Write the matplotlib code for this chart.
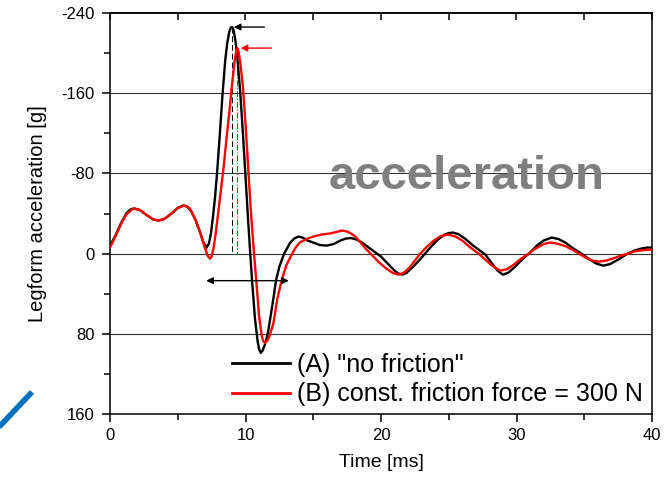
import matplotlib
matplotlib.use("Agg")
import matplotlib.pyplot as plt
from matplotlib.lines import Line2D
from matplotlib.ticker import MultipleLocator

plt.rcParams['font.family'] = ['Liberation Sans', 'DejaVu Sans']
plt.rcParams['axes.unicode_minus'] = False

# --- data (time [ms], acceleration [g]) ---
t_a = [0, 0.4, 0.8, 1.2, 1.5, 1.8, 2.2, 2.7, 3.2, 3.6, 4.0, 4.5, 5.0, 5.4, 5.7, 6.0, 6.3,
       6.6, 6.9, 7.13, 7.3, 7.45, 7.6, 7.75, 7.9, 8.1, 8.3, 8.5, 8.65, 8.8, 8.92, 9.0, 9.1,
       9.25, 9.4, 9.6, 9.8, 10.0, 10.2, 10.35, 10.5, 10.7, 10.9, 11.0, 11.12, 11.25, 11.4,
       11.55, 11.68, 12.0, 12.25, 12.5, 12.85, 13.1, 13.3, 13.6, 13.9, 14.2, 14.6, 15.0,
       15.5, 16.0, 16.5, 17.0, 17.4, 17.8, 18.2, 18.6, 19.0, 19.5, 20.0, 20.5, 21.0, 21.3,
       21.6, 21.9, 22.3, 22.8, 23.25, 23.7, 24.2, 24.7, 25.0, 25.3, 25.7, 26.2, 26.8, 27.3,
       27.7, 28.2, 28.6, 29.0, 29.4, 29.9, 30.4, 31.0, 31.5, 32.0, 32.6, 33.1, 33.6, 34.2,
       34.8, 35.3, 35.9, 36.4, 36.9, 37.5, 38.2, 38.7, 39.2, 39.6, 40.0]
acc_a = [-8, -18, -30, -40, -44, -45, -43.5, -38.5, -34, -33, -34.5, -39.5, -45.5, -48, -47,
         -42, -34, -23, -11, -6, -10, -20, -37, -56, -80, -118, -158, -192, -210, -221,
         -225.5, -226, -224, -213, -195, -163, -122, -77, -32, 0, 30, 65, 88, 95, 99, 97, 92,
         85, 77, 50, 27, 13, 0, -6, -11, -15, -17, -16, -13, -11,
         -8.5, -8, -9.5, -13, -15, -15.5, -14, -11, -7, -2, 3, 10, 17, 20,
         21, 19, 14, 7, 0, -7, -14, -19, -20.5, -21, -19.5, -15, -8, -3,
         1, 10, 17, 21, 19, 13, 6, -1, -8, -13, -16, -14.5, -11, -5,
         0, 5, 10, 12, 10.5, 6, 0, -3, -5, -6, -6]

t_b = [0, 0.4, 0.8, 1.2, 1.7, 2.2, 2.7, 3.2, 3.6, 4.0, 4.5, 5.0, 5.5, 5.9, 6.3, 6.7, 7.0,
       7.2, 7.38, 7.5, 7.65, 7.8, 8.0, 8.2, 8.4, 8.6, 8.8, 9.0, 9.2, 9.3, 9.39, 9.48, 9.6,
       9.8, 10.0, 10.2, 10.4, 10.6, 10.8, 11.0, 11.2, 11.3, 11.43, 11.6, 11.75, 12.05, 12.35,
       12.66, 13.0, 13.45, 13.7, 14.0, 14.5, 15.0, 15.6, 16.2, 16.7, 17.1, 17.5, 17.8, 18.1,
       18.5, 18.8, 19.3, 19.8, 20.4, 20.9, 21.3, 21.7, 22.1, 22.5, 22.9, 23.4, 23.9, 24.4,
       24.95, 25.5, 26.0, 26.6, 27.2, 27.7, 28.2, 28.8, 29.3, 29.8, 30.3, 30.9, 31.4, 32.0,
       32.5, 33.0, 33.6, 34.1, 34.6, 35.1, 35.6, 36.05, 36.6, 37.2, 37.7, 38.2, 38.8, 39.4,
       40.0]
acc_b = [-6, -17, -29, -39, -45, -43.5, -38.5, -34, -33, -34.5, -39.5, -45.5, -48, -45, -34,
         -19, -6, 2, 5, 3, -6, -20, -42, -65, -88, -115, -140, -168, -192, -201, -205, -202,
         -192, -168, -130, -85, -42, -5, 28, 62, 82, 87, 89, 87, 83, 70, 45,
         27, 12, 0, -6, -11, -14.5, -17, -19, -20, -21.5, -23, -22, -20, -17,
         -11, -6, 1, 8, 15, 19.5, 21, 19, 14, 7, 0, -7, -13, -17.5,
         -19, -17, -13, -6, 0, 6, 12, 17, 15.5, 11, 5.5, 0, -5, -9.5,
         -11, -10, -7.5, -4, 0, 4, 7, 8, 7, 4.5, 2, 0, -2.5, -3.5,
         -4]

label_a = '(A) "no friction"'
label_b = '(B) const. friction force = 300 N'
x_ticks = [0, 10, 20, 30, 40]
y_ticks = [-240, -160, -80, 0, 80, 160]
grid_levels = [-160, -80, 0, 80]

# peak markers / annotations (data values)
peak_a = (9.03, -226)
peak_b = (9.39, -205)
dur_span = (7.1, 13.2, 27)

fig = plt.figure(figsize=(6.67, 4.79), dpi=100)
ax = fig.add_axes([110/667, 65/479, 542/667, 401/479])

for g in grid_levels:
    ax.axhline(g, color='#333333', lw=0.8, zorder=1)

ax.plot(t_a, acc_a, color='black', lw=1.7, label=label_a, zorder=3,
        solid_joinstyle='round')
ax.plot(t_b, acc_b, color='#ff0000', lw=1.7, label=label_b, zorder=4,
        solid_joinstyle='round')

# vertical markers at the peaks
ax.plot([peak_a[0], peak_a[0]], [peak_a[1], 0], color='black', lw=0.7, ls=(0, (6, 3)), zorder=2)
ax.plot([peak_b[0], peak_b[0]], [peak_b[1], 0], color='#ff0000', lw=0.7, ls=(0, (6, 2, 1, 2)), zorder=2)

# arrows pointing at the peaks
ax.annotate('', xy=(peak_a[0] + 0.1, peak_a[1]), xytext=(11.4, peak_a[1]),
            arrowprops=dict(arrowstyle='-|>', color='black', lw=1.0, mutation_scale=10,
                            shrinkA=0, shrinkB=0), zorder=5)
ax.annotate('', xy=(peak_b[0] + 0.25, peak_b[1]), xytext=(11.9, peak_b[1]),
            arrowprops=dict(arrowstyle='-|>', color='#ff0000', lw=1.0, mutation_scale=10,
                            shrinkA=0, shrinkB=0), zorder=5)
# duration arrow
ax.annotate('', xy=(dur_span[0], dur_span[2]), xytext=(dur_span[1], dur_span[2]),
            arrowprops=dict(arrowstyle='<|-|>', color='black', lw=1.0, mutation_scale=10,
                            shrinkA=0, shrinkB=0), zorder=5)

ax.text(26.3, -64, 'acceleration', color='#7f7f7f', fontsize=34, fontweight='bold',
        ha='center', va='baseline', zorder=6)

ax.set_xlim(0, 40)
ax.set_ylim(160, -240)
ax.set_xticks(x_ticks)
ax.set_yticks(y_ticks)
ax.xaxis.set_minor_locator(MultipleLocator(5))
ax.yaxis.set_minor_locator(MultipleLocator(40))
ax.tick_params(axis='both', which='major', direction='out', length=6, width=1.1,
               labelsize=12, pad=5, colors='black')
ax.tick_params(axis='both', which='minor', direction='out', length=4, width=1.1)
ax.tick_params(axis='x', which='major', pad=4)
for sp in ax.spines.values():
    sp.set_linewidth(1.1)
    sp.set_color('black')

# top ticks point inward
secx = ax.secondary_xaxis('top')
secx.set_xticks(x_ticks)
secx.xaxis.set_minor_locator(MultipleLocator(5))
secx.tick_params(axis='x', which='both', direction='in', length=5, width=1.1, labeltop=False)
secx.spines['top'].set_linewidth(1.1)

ax.set_xlabel('Time [ms]', fontsize=14, labelpad=8)
ax.set_ylabel('Legform acceleration [g]', fontsize=14.5, labelpad=10)

leg = ax.legend(loc='upper left', bbox_to_anchor=(232/667, 1 - 353/479),
                bbox_transform=fig.transFigure, frameon=False, fontsize=18,
                handlelength=2.3, handletextpad=0.3, labelspacing=0.22,
                borderpad=0, borderaxespad=0)
for h in leg.get_lines():
    h.set_linewidth(2.0)

fig.add_artist(Line2D([-0.01, 32/667], [(479-433)/479, (479-392)/479], color='#0070C0',
                      lw=4, solid_capstyle='butt', transform=fig.transFigure))

fig.savefig('out.png', dpi=100)
